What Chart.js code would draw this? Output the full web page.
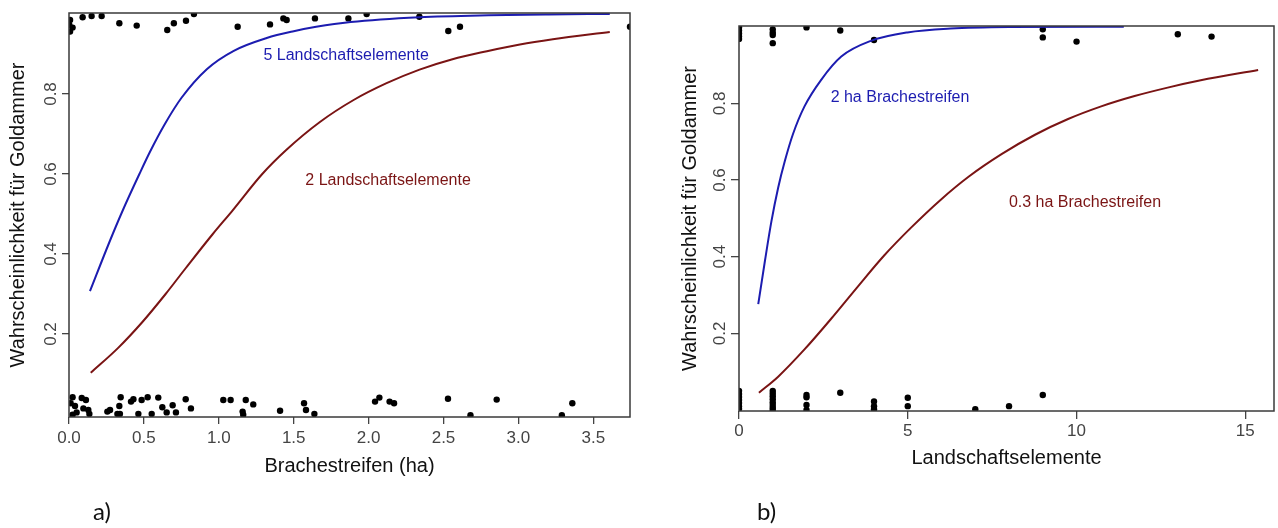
<!DOCTYPE html>
<html>
<head>
<meta charset="utf-8">
<script src="https://cdn.jsdelivr.net/npm/chart.js@4.4.1/dist/chart.umd.min.js"></script>
<style>
  body { margin: 0; background: #fff; }
  #wrap { position: relative; width: 1278px; height: 528px; overflow: hidden; }
  .panel { position: absolute; top: 0; height: 528px; }
  .tag { position: absolute; font-family: Lato, "Open Sans", sans-serif; font-size: 24px; line-height: 24px; color: #111; }
</style>
</head>
<body>
<div id="wrap">
  <div class="panel" style="left:0;width:640px"><canvas id="chartA"></canvas></div>
  <div class="panel" style="left:640px;width:638px"><canvas id="chartB"></canvas></div>
  <div class="tag" style="left:93px;top:499px">a)</div>
  <div class="tag" style="left:757px;top:499px">b)</div>
</div>
<script>
// ---- shared ----
const yTicks = [0.2, 0.4, 0.6, 0.8];
const yTitle = 'Wahrscheinlichkeit für Goldammer';

// ---- a) Brachestreifen (ha) ----
const xTicksA = [0, 0.5, 1, 1.5, 2, 2.5, 3, 3.5];
const xTitleA = 'Brachestreifen (ha)';
// fitted curve, 5 Landschaftselemente
const curveA5 = [[0.14,0.307],[0.27,0.43],[0.36,0.51],[0.47,0.60],[0.54,0.655],[0.64,0.725],[0.75,0.79],
  [0.92,0.862],[1.10,0.908],[1.32,0.94],[1.50,0.957],[1.65,0.968],[1.88,0.98],[2.34,0.992],[2.8,0.997],[3.2,0.999],[3.61,1.0]];
// fitted curve, 2 Landschaftselemente
const curveA2 = [[0.145,0.103],[0.33,0.166],[0.49,0.23],[0.645,0.30],[0.78,0.365],[0.96,0.45],[1.09,0.508],
  [1.29,0.60],[1.45,0.66],[1.675,0.73],[1.90,0.785],[2.12,0.827],[2.34,0.861],[2.56,0.887],[2.79,0.907],
  [3.01,0.924],[3.23,0.937],[3.61,0.955]];
// observations (jittered 0 / 1)
const obsA0 = [[0.024,0.042],[0.011,0.027],[0.04,0.02],[0.051,0.004],[0.085,0.04],[0.113,0.035],[0.096,0.014],
  [0.129,0.01],[0.136,0.0],[0.024,-0.002],[0.256,0.006],[0.274,0.01],[0.323,0.0],[0.34,0.0],[0.336,0.02],
  [0.345,0.042],[0.414,0.031],[0.43,0.037],[0.485,0.035],[0.525,0.042],[0.463,0.0],[0.552,0.0],[0.596,0.041],
  [0.623,0.017],[0.652,0.004],[0.692,0.022],[0.714,0.004],[0.779,0.037],[0.814,0.014],[1.03,0.035],[1.079,0.035],
  [1.159,0.006],[1.163,-0.002],[1.18,0.035],[1.23,0.024],[1.409,0.008],[1.569,0.027],[1.582,0.01],[1.638,0.0],
  [2.043,0.031],[2.072,0.041],[2.14,0.031],[2.17,0.027],[2.53,0.038],[2.68,-0.003],[2.855,0.036],[3.29,-0.003],[3.36,0.027]];
const obsA1 = [[0.007,0.985],[0.002,0.9725],[0.024,0.966],[0.007,0.956],[0.091,0.992],[0.151,0.995],[0.218,0.995],
  [0.336,0.977],[0.452,0.971],[0.656,0.96],[0.70,0.977],[0.781,0.983],[0.834,1.0],[1.126,0.968],[1.342,0.974],
  [1.431,0.989],[1.453,0.985],[1.642,0.989],[1.865,0.989],[1.987,1.0],[2.339,0.993],[2.532,0.9575],[2.61,0.968],[3.745,0.968]];
const notesA = [['5 Landschaftselemente', 1.85, 0.897], ['2 Landschaftselemente', 2.13, 0.583]];

// ---- b) Landschaftselemente ----
const xTicksB = [0, 5, 10, 15];
const xTitleB = 'Landschaftselemente';
// fitted curve, 2 ha Brachestreifen
const curveB2 = [[0.57,0.276],[0.77,0.39],[0.96,0.492],[1.16,0.58],[1.36,0.65],[1.60,0.72],[1.94,0.792],
  [2.44,0.862],[3.03,0.922],[3.91,0.963],[4.99,0.985],[6.27,0.995],[8.0,0.999],[11.4,1.0]];
// fitted curve, 0.3 ha Brachestreifen
const curveB03 = [[0.59,0.045],[1.16,0.087],[1.94,0.158],[2.73,0.238],[3.52,0.322],[4.30,0.403],[5.09,0.475],
  [5.97,0.548],[6.81,0.609],[7.79,0.668],[8.77,0.718],[9.75,0.759],[10.73,0.792],[11.72,0.819],[12.70,0.841],
  [13.68,0.86],[15.38,0.887]];
const obsB0 = [[0,0.05],[0,0.042],[0,0.034],[0,0.026],[0,0.018],[0,0.01],[0,0.003],
  [1,0.05],[1,0.043],[1,0.036],[1,0.028],[1,0.02],[1,0.013],[1,0.006],[1,0.0],
  [2,0.039],[2,0.033],[2,0.013],[2,0.0],[3,0.045],[4,0.022],[4,0.01],[4,0.002],[5,0.032],[5,0.01],
  [7,0.002],[8,0.01],[9,0.039]];
const obsB1 = [[0,0.998],[0,0.99],[0,0.982],[0,0.975],[0,0.968],[1,0.993],[1,0.984],[1,0.978],[1,0.957],
  [2,0.998],[3,0.99],[4,0.965],[9,0.993],[9,0.972],[10,0.961],[13,0.98],[14,0.974]];
const notesB = [['2 ha Brachestreifen', 4.77, 0.815], ['0.3 ha Brachestreifen', 10.25, 0.540]];

const BLUE = '#1c1cb0';
const RED = '#7a1414';
const FONT = '"Liberation Sans", Arial, sans-serif';

const toXY = arr => arr.map(p => ({x: p[0], y: p[1]}));

const boxPlugin = {
  id: 'box',
  afterDraw(chart) {
    const {ctx, chartArea: a} = chart;
    ctx.save();
    ctx.strokeStyle = '#3a3a3a';
    ctx.lineWidth = 1.5;
    ctx.strokeRect(a.left, a.top, a.right - a.left, a.bottom - a.top);
    ctx.restore();
  }
};

function notesPlugin(notes, colors) {
  return {
    id: 'notes',
    afterDatasetsDraw(chart) {
      const {ctx, scales: {x, y}} = chart;
      ctx.save();
      ctx.font = '16px ' + FONT;
      ctx.textAlign = 'center';
      ctx.textBaseline = 'middle';
      notes.forEach((n, i) => {
        ctx.fillStyle = colors[i];
        ctx.fillText(n[0], x.getPixelForValue(n[1]), y.getPixelForValue(n[2]));
      });
      ctx.restore();
    }
  };
}

function makePanel(id, c) {
  const curve = (data, color) => ({
    data: toXY(data), showLine: true, borderColor: color, borderWidth: 2,
    pointRadius: 0, cubicInterpolationMode: 'monotone', clip: 0
  });
  const dots = data => ({
    data: toXY(data), backgroundColor: '#000', borderWidth: 0, pointRadius: 3.2, clip: 0
  });
  return new Chart(document.getElementById(id), {
    type: 'scatter',
    data: {
      datasets: [curve(c.hi, BLUE), curve(c.lo, RED), dots(c.obs0), dots(c.obs1)]
    },
    options: {
      responsive: true,
      maintainAspectRatio: false,
      animation: false,
      layout: { padding: c.pad },
      plugins: { legend: { display: false }, tooltip: { enabled: false } },
      scales: {
        x: {
          type: 'linear', min: c.xMin, max: c.xMax,
          afterBuildTicks: s => { s.ticks = c.xTicks.map(v => ({value: v})); },
          afterFit: s => { s.height = c.xH; },
          grid: { drawOnChartArea: false, tickLength: c.tl, color: '#444', lineWidth: 1.3 },
          border: { display: false },
          ticks: { autoSkip: false, maxRotation: 0, padding: c.xPad, color: '#444',
                   font: { family: FONT, size: 17 }, callback: c.fmt },
          title: { display: true, text: c.xTitle, color: '#111', padding: {top: 0, bottom: 0},
                   font: { family: FONT, size: 20 } }
        },
        y: {
          type: 'linear', min: c.yMin, max: c.yMax,
          afterBuildTicks: s => { s.ticks = yTicks.map(v => ({value: v})); },
          afterFit: s => { s.width = c.yW; },
          grid: { drawOnChartArea: false, tickLength: c.tl, color: '#444', lineWidth: 1.3 },
          border: { display: false },
          ticks: { autoSkip: false, minRotation: 90, maxRotation: 90, crossAlign: 'center', padding: -1,
                   color: '#444', font: { family: FONT, size: 17 }, callback: v => v.toFixed(1) },
          title: { display: true, text: yTitle, color: '#111', padding: {top: 6, bottom: 0},
                   font: { family: FONT, size: 20 } }
        }
      }
    },
    plugins: [boxPlugin, notesPlugin(c.notes, [BLUE, RED])]
  });
}

makePanel('chartA', {
  hi: curveA5, lo: curveA2, obs0: obsA0, obs1: obsA1, notes: notesA,
  xTicks: xTicksA, xTitle: xTitleA, fmt: v => v.toFixed(1),
  xMin: 0, xMax: 3.745, yMin: -0.0075, yMax: 1.0025,
  pad: {left: 0, top: 13, right: 10, bottom: 50}, yW: 69, xH: 61, tl: 7, xPad: 4
});

makePanel('chartB', {
  hi: curveB2, lo: curveB03, obs0: obsB0, obs1: obsB1, notes: notesB,
  xTicks: xTicksB, xTitle: xTitleB, fmt: v => String(v),
  xMin: 0, xMax: 15.85, yMin: -0.0026, yMax: 1.0017,
  pad: {left: 32, top: 26, right: 1, bottom: 58}, yW: 67, xH: 59, tl: 8, xPad: 2
});
</script>
</body>
</html>
